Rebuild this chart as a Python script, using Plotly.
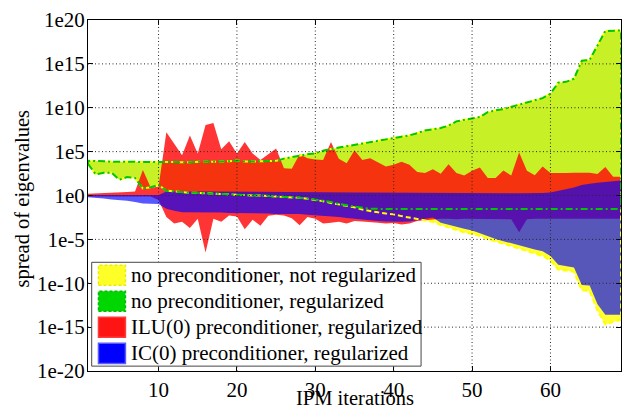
import plotly.graph_objects as go

# ---------------- data (log10 of eigenvalue spread bounds) ----------------
iterations = list(range(1, 70))

# upper bound, no preconditioner (regularized and not regularized coincide)
noprec_upper_exp = [
    3.95, 3.9, 3.9, 3.85, 3.85, 3.85, 3.8, 3.8, 3.8, 3.8,
    3.8, 3.8, 3.8, 3.8, 3.8, 3.85, 3.85, 3.85, 3.9, 4.0,
    3.87, 3.87, 3.9, 3.9, 3.95, 4.2, 4.35, 4.55, 4.7, 4.8,
    5.1, 5.3, 5.47, 5.6, 5.75, 5.9, 6.1, 6.25, 6.4, 6.55,
    6.7, 6.85, 7.1, 7.4, 7.55, 7.7, 7.95, 8.45, 8.6, 8.8,
    8.95, 9.5, 9.7, 9.85, 10.1, 10.4, 10.6, 10.85, 11.1, 11.6,
    12.85, 12.95, 13.3, 15.35, 15.45, 17.1, 18.75, 18.8, 18.8]

# lower bound, no preconditioner, regularized
reg_lower_exp = [
    3.6, 2.4, 2.6, 2.6, 1.8, 2.1, 2.0, 0.8, 0.95, 1.2,
    0.55, 0.45, 0.35, 0.3, 0.3, 0.25, 0.22, 0.2, 0.15, 0.05,
    0.05, 0.0, 0.0, -0.05, -0.08, -0.1, -0.15, -0.25, -0.35, -0.45,
    -0.6, -0.75, -0.97, -1.1, -1.27, -1.4, -1.5, -1.55, -1.55, -1.55,
    -1.55, -1.55, -1.55, -1.55, -1.55, -1.55, -1.55, -1.55, -1.55, -1.55,
    -1.55, -1.55, -1.55, -1.55, -1.55, -1.55, -1.55, -1.55, -1.55, -1.55,
    -1.55, -1.55, -1.55, -1.55, -1.55, -1.55, -1.55, -1.55, -1.55]

# lower bound, no preconditioner, not regularized
noreg_lower_exp = [
    3.6, 2.4, 2.6, 2.6, 1.8, 2.1, 2.0, 0.8, 0.95, 1.2,
    0.55, 0.45, 0.35, 0.3, 0.3, 0.25, 0.22, 0.2, 0.15, 0.05,
    0.05, 0.0, 0.0, -0.05, -0.08, -0.1, -0.15, -0.27, -0.38, -0.5,
    -0.65, -0.85, -1.0, -1.15, -1.35, -1.6, -1.8, -1.92, -2.05, -2.15,
    -2.35, -2.5, -2.65, -2.8, -3.0, -3.35, -3.65, -3.9, -4.2, -4.4,
    -4.6, -4.95, -5.25, -5.5, -5.75, -6.05, -6.3, -6.6, -6.9, -7.4,
    -8.45, -8.55, -8.7, -10.8, -10.9, -13.1, -14.7, -14.4, -14.15]

# ILU(0) preconditioner, regularized
ilu_upper_exp = [
    0.2, 0.2, 0.25, 0.3, 0.35, 0.4, 0.45, 2.9, 0.9, 1.0,
    7.2, 5.9, 4.6, 6.84, 4.8, 8.03, 8.26, 5.28, 6.17, 4.8,
    6.1, 4.8, 4.05, 4.7, 5.36, 3.1, 3.05, 4.7, 4.24, 4.1,
    4.05, 6.1, 4.2, 3.68, 5.17, 4.05, 4.24, 3.8, 3.3, 3.5,
    3.86, 3.5, 2.68, 2.57, 3.0, 2.49, 3.57, 2.57, 2.27, 2.82,
    3.19, 2.0, 2.0, 2.86, 2.27, 4.91, 2.82, 2.3, 3.3, 2.57,
    2.57, 2.57, 2.6, 2.63, 2.6, 2.45, 3.24, 2.15, 2.15]
ilu_lower_exp = [
    -0.1, -0.1, -0.1, -0.1, -0.1, -0.1, -0.1, -0.1, -0.1, -0.5,
    -2.46, -3.2, -3.0, -3.7, -2.65, -6.5, -2.65, -3.0, -2.27, -2.4,
    -3.85, -2.75, -3.45, -2.3, -2.2, -2.27, -2.6, -3.39, -2.46, -2.65,
    -3.2, -3.1, -3.0, -3.2, -2.9, -2.95, -3.0, -3.1, -3.2, -3.13,
    -3.3, -3.2, -2.9, -2.8, -2.7, -2.65, -2.65, -2.7, -2.65, -2.65,
    -2.7, -2.65, -2.7, -2.7, -2.7, -4.2, -2.7, -2.65, -2.65, -2.65,
    -2.65, -2.65, -2.65, -2.65, -2.65, -2.65, -2.65, -2.65, -2.65]

# IC(0) preconditioner, regularized
ic_upper_exp = [
    0.05, 0.05, 0.05, 0.05, 0.05, 0.05, 0.05, 0.05, 0.05, 0.05,
    0.45, 0.45, 0.45, 0.45, 0.45, 0.45, 0.45, 0.45, 0.45, 0.45,
    0.42, 0.42, 0.42, 0.42, 0.42, 0.4, 0.4, 0.4, 0.4, 0.4,
    0.38, 0.37, 0.36, 0.35, 0.34, 0.33, 0.32, 0.31, 0.3, 0.28,
    0.26, 0.25, 0.25, 0.25, 0.25, 0.25, 0.25, 0.25, 0.25, 0.25,
    0.25, 0.25, 0.25, 0.25, 0.25, 0.25, 0.25, 0.25, 0.28, 0.33,
    0.5, 0.7, 0.9, 1.2, 1.35, 1.45, 1.55, 1.65, 1.72]
ic_lower_exp = [
    -0.2, -0.25, -0.35, -0.45, -0.52, -0.6, -0.75, -0.9, -0.95, -0.97,
    -1.5, -1.75, -1.9, -1.9, -1.9, -1.95, -1.95, -1.95, -2.0, -2.0,
    -2.0, -2.0, -2.05, -2.05, -2.1, -2.1, -2.1, -2.1, -2.2, -2.25,
    -2.3, -2.4, -2.46, -2.55, -2.65, -2.75, -2.83, -2.9, -2.95, -3.0,
    -3.0, -2.95, -2.8, -2.6, -2.5, -3.1, -3.3, -3.55, -3.8, -4.0,
    -4.3, -4.65, -4.95, -5.2, -5.45, -5.7, -5.95, -6.15, -6.35, -6.9,
    -7.9, -8.05, -8.2, -10.2, -10.25, -12.4, -13.6, -13.6, -13.6]

legend_labels = [
    "no preconditioner, not regularized",
    "no preconditioner, regularized",
    "ILU(0) preconditioner, regularized",
    "IC(0) preconditioner, regularized",
]

x_tick_vals = [10, 20, 30, 40, 50, 60]
y_tick_exps = [-20, -15, -10, -5, 0, 5, 10, 15, 20]
y_tick_labels = ["1e-20", "1e-15", "1e-10", "1e-5", "1e0", "1e5", "1e10", "1e15", "1e20"]

FONT = "Liberation Serif, Times New Roman, serif"
FS = 21

# ---------------- helpers ----------------
def band_xy(lo_exp, hi_exp, close=False):
    xs = iterations + iterations[::-1]
    ys = [10.0 ** v for v in lo_exp] + [10.0 ** v for v in hi_exp[::-1]]
    if close:
        xs = xs + [xs[0]]
        ys = ys + [ys[0]]
    return xs, ys

fig = go.Figure()

fills = [
    (noreg_lower_exp, noprec_upper_exp, "rgba(255,255,0,0.80)"),
    (reg_lower_exp, noprec_upper_exp, "rgba(0,185,0,0.22)"),
    (ilu_lower_exp, ilu_upper_exp, "rgba(255,8,8,0.82)"),
    (ic_lower_exp, ic_upper_exp, "rgba(0,0,255,0.66)"),
]
for lo, hi, col in fills:
    xs, ys = band_xy(lo, hi)
    fig.add_trace(go.Scatter(x=xs, y=ys, mode="lines", fill="toself",
                             fillcolor=col, line=dict(width=0),
                             hoverinfo="skip", showlegend=False))

# edge lines (drawn on top)
xs, ys = band_xy(noreg_lower_exp, noprec_upper_exp, close=True)
fig.add_trace(go.Scatter(x=xs, y=ys, mode="lines",
                         line=dict(color="rgb(255,255,0)", width=2, dash="5px,3px"),
                         hoverinfo="skip", showlegend=False))
xs, ys = band_xy(reg_lower_exp, noprec_upper_exp, close=True)
fig.add_trace(go.Scatter(x=xs, y=ys, mode="lines",
                         line=dict(color="rgb(0,200,0)", width=2, dash="7px,3px,2px,3px"),
                         hoverinfo="skip", showlegend=False))

# ---------------- layout ----------------
PL, PR, PT, PB = 88, 622, 11, 371
W, H = 630, 415

def fx(px):
    return (px - PL) / (PR - PL)

def fy(py):
    return (PB - py) / (PB - PT)

shapes = []
# dotted grid above the fills (as in the original)
for xv in x_tick_vals:
    shapes.append(dict(type="line", xref="x", yref="paper", x0=xv, x1=xv, y0=0, y1=1,
                       line=dict(color="rgb(40,40,40)", width=1, dash="1px,2.5px"),
                       layer="above"))
for e in y_tick_exps[1:-1]:
    yy = (e - y_tick_exps[0]) / (y_tick_exps[-1] - y_tick_exps[0])
    shapes.append(dict(type="line", xref="paper", yref="paper", x0=0, x1=1, y0=yy, y1=yy,
                       line=dict(color="rgb(40,40,40)", width=1, dash="1px,2.5px"),
                       layer="above"))

# legend box
shapes.append(dict(type="rect", xref="paper", yref="paper",
                   x0=fx(91.7), x1=fx(421.7), y0=fy(366), y1=fy(259.5),
                   fillcolor="white", line=dict(color="rgb(70,70,70)", width=1), layer="above"))

patch_styles = [
    ("rgb(255,255,40)", "rgb(235,235,0)", "3px,2px"),
    ("rgb(0,215,0)", "rgb(0,190,0)", "3px,2px"),
    ("rgb(255,20,20)", "rgb(255,60,60)", "solid"),
    ("rgb(0,0,255)", "rgb(90,90,255)", "solid"),
]
annotations = []
row0, pitch = 272.8, 26.7
for i, (lab, (fc, lc, dsh)) in enumerate(zip(legend_labels, patch_styles)):
    cy = row0 + i * pitch
    shapes.append(dict(type="rect", xref="paper", yref="paper",
                       x0=fx(98.5), x1=fx(125.5), y0=fy(cy + 10.3), y1=fy(cy - 10.3),
                       fillcolor=fc, line=dict(color=lc, width=1.5, dash=dsh), layer="above"))
    annotations.append(dict(text=lab, xref="paper", yref="paper", x=fx(129), y=fy(cy),
                            xanchor="left", yanchor="middle", showarrow=False,
                            font=dict(family=FONT, size=FS, color="black")))

# axis titles
annotations.append(dict(text="IPM iterations", xref="paper", yref="paper",
                        x=fx(355.5), y=fy(399), xanchor="center", yanchor="middle",
                        showarrow=False, font=dict(family=FONT, size=20.5, color="black")))
annotations.append(dict(text="spread of eigenvalues", xref="paper", yref="paper",
                        x=fx(22), y=fy(194), xanchor="center", yanchor="middle",
                        textangle=-90, showarrow=False,
                        font=dict(family=FONT, size=20.5, color="black")))

fig.update_layout(
    width=W, height=H, autosize=False,
    margin=dict(l=PL, r=W - PR, t=PT, b=H - PB, pad=0),
    paper_bgcolor="white", plot_bgcolor="white",
    showlegend=False,
    font=dict(family=FONT, size=FS, color="black"),
    shapes=shapes, annotations=annotations,
    xaxis=dict(range=[1, 69], tickmode="array", tickvals=x_tick_vals,
               ticks="inside", ticklen=5, tickcolor="black", mirror="ticks",
               showline=True, linecolor="black", linewidth=1, showgrid=False,
               zeroline=False, ticklabelstandoff=0, ticklabeloverflow="allow",
               tickfont=dict(family=FONT, size=FS, color="black")),
    yaxis=dict(type="log", range=[-20, 20], tickmode="array",
               tickvals=[10.0 ** e for e in y_tick_exps], ticktext=y_tick_labels,
               ticks="inside", ticklen=5, tickcolor="black", mirror="ticks",
               showline=True, linecolor="black", linewidth=1, showgrid=False,
               zeroline=False, ticklabelstandoff=-2, ticklabeloverflow="allow",
               tickfont=dict(family=FONT, size=FS, color="black")),
)

fig.write_html("out.html")
